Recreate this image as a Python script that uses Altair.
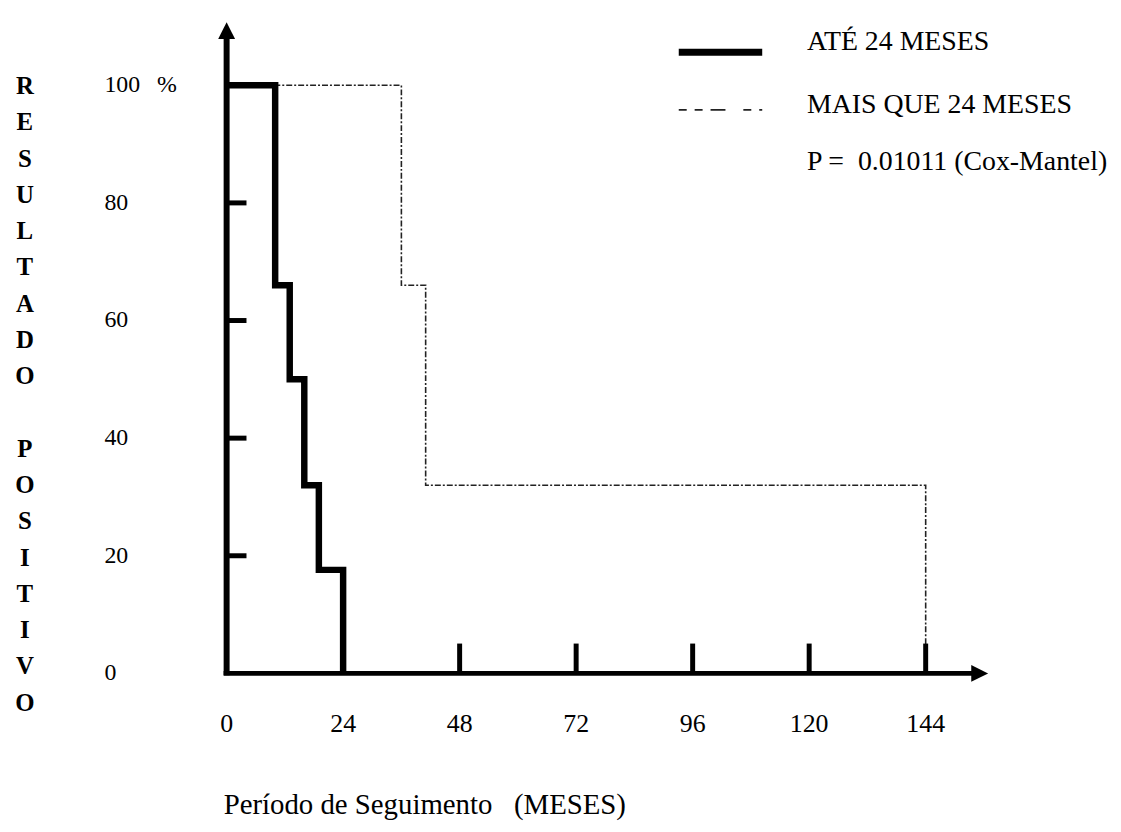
import altair as alt
import pandas as pd

# ---- data ----
solid_months = [0, 10, 13, 16, 19, 24]
solid_pct = [100, 66, 50, 32, 17.6, 0]
dashed_months = [0, 36, 41, 144]
dashed_pct = [100, 66, 32, 0]

x_tick_values = [24, 48, 72, 96, 120, 144]
x_label_values = [0, 24, 48, 72, 96, 120, 144]
x_label_text = ["0", "24", "48", "72", "96", "120", "144"]
y_tick_values = [20, 40, 60, 80]
y_label_values = [0, 20, 40, 60, 80, 100]
y_label_text = ["0", "20", "40", "60", "80", "100"]

legend_labels = ["ATÉ 24 MESES", "MAIS QUE 24 MESES"]
pvalue_text = "P = \u00a00.01011 (Cox-Mantel)"
y_title_words = ["RESULTADO", "POSITIVO"]
x_title = "Período de Seguimento\u00a0\u00a0\u00a0(MESES)"

W, H = 767, 651
FONT = "Liberation Serif"
LETTER_STEP = 36.5

xs = alt.Scale(domain=[0, 157], nice=False, zero=False)
ys = alt.Scale(domain=[0, 110], nice=False)

solid_df = pd.DataFrame({"m": solid_months, "p": solid_pct})
dashed_df = pd.DataFrame({"m": dashed_months, "p": dashed_pct})
one = pd.DataFrame({"k": [0]})

dashed = alt.Chart(dashed_df).mark_line(
    interpolate="step-after", strokeWidth=1.6, color="#222",
    strokeDash=[6, 2, 2, 2]
).encode(x=alt.X("m:Q", scale=xs, axis=None), y=alt.Y("p:Q", scale=ys, axis=None))

solid = alt.Chart(solid_df).mark_line(
    interpolate="step-after", strokeWidth=6.5, color="black", strokeJoin="miter"
).encode(x=alt.X("m:Q", scale=xs, axis=None), y=alt.Y("p:Q", scale=ys, axis=None))

y_axis_line = alt.Chart(one).mark_rule(strokeWidth=6, color="black").encode(
    x=alt.value(0), y=alt.value(H + 2), y2=alt.value(10))
x_axis_line = alt.Chart(one).mark_rule(strokeWidth=5, color="black").encode(
    x=alt.value(-3), x2=alt.value(752), y=alt.value(H))

arrow_up = alt.Chart(one).mark_point(
    shape="M0,-1L0.75,0.5L-0.75,0.5Z", filled=True, size=514, color="black", opacity=1
).encode(x=alt.value(0), y=alt.value(7))
arrow_right = alt.Chart(one).mark_point(
    shape="M1,0L-0.5,0.75L-0.5,-0.75Z", filled=True, size=514, color="black", opacity=1
).encode(x=alt.value(755), y=alt.value(H))

y_ticks = alt.Chart(pd.DataFrame({"v": y_tick_values})).mark_rule(
    strokeWidth=5, color="black").encode(
    y=alt.Y("v:Q", scale=ys, axis=None), x=alt.value(0), x2=alt.value(20))
x_ticks = alt.Chart(pd.DataFrame({"v": x_tick_values})).mark_rule(
    strokeWidth=5, color="black").encode(
    x=alt.X("v:Q", scale=xs, axis=None), y=alt.value(H), y2=alt.value(H - 30))

x_labels = alt.Chart(pd.DataFrame({"v": x_label_values, "t": x_label_text})).mark_text(
    font=FONT, fontSize=26, align="center", baseline="middle", color="black"
).encode(x=alt.X("v:Q", scale=xs, axis=None), y=alt.value(H + 51), text="t:N")

y_labels = alt.Chart(pd.DataFrame({"v": y_label_values, "t": y_label_text})).mark_text(
    font=FONT, fontSize=24, align="left", baseline="middle", color="black"
).encode(y=alt.Y("v:Q", scale=ys, axis=None), x=alt.value(-123), text="t:N")

pct_sign = alt.Chart(one).mark_text(
    font=FONT, fontSize=24, align="center", baseline="middle", color="black", text="%"
).encode(y=alt.YDatum(100, scale=ys, axis=None), x=alt.value(-60))

letter_style = dict(font=FONT, fontSize=25, fontWeight="bold", align="center",
                    baseline="middle", color="black", lineBreak="\n",
                    lineHeight=LETTER_STEP)
y_title_1 = alt.Chart(one).mark_text(
    text="\n".join(y_title_words[0]), **letter_style
).encode(x=alt.value(-203), y=alt.value(60))
y_title_2 = alt.Chart(one).mark_text(
    text="\n".join(y_title_words[1]), **letter_style
).encode(x=alt.value(-203), y=alt.value(60 + 10 * LETTER_STEP))

x_title_txt = alt.Chart(one).mark_text(
    font=FONT, fontSize=29, align="left", baseline="middle", color="black", text=x_title
).encode(x=alt.value(-3), y=alt.value(H + 133))

leg_solid = alt.Chart(one).mark_rule(strokeWidth=7, color="black").encode(
    x=alt.value(455), x2=alt.value(539), y=alt.value(26))
leg_dashed = alt.Chart(one).mark_rule(
    strokeWidth=1.8, color="#222", strokeDash=[8, 8, 8, 8, 15, 18, 8]).encode(
    x=alt.value(455), x2=alt.value(539), y=alt.value(84))

leg_style = dict(font=FONT, fontSize=28, align="left", baseline="middle", color="black")
leg_text1 = alt.Chart(one).mark_text(text=legend_labels[0], **leg_style).encode(
    x=alt.value(584), y=alt.value(16))
leg_text2 = alt.Chart(one).mark_text(text=legend_labels[1], **leg_style).encode(
    x=alt.value(584), y=alt.value(79))
leg_text3 = alt.Chart(one).mark_text(text=pvalue_text, **leg_style).encode(
    x=alt.value(584), y=alt.value(136))

chart = alt.layer(
    dashed, solid, y_axis_line, x_axis_line, arrow_up, arrow_right,
    y_ticks, x_ticks, x_labels, y_labels, pct_sign, y_title_1, y_title_2,
    x_title_txt, leg_solid, leg_dashed, leg_text1, leg_text2, leg_text3,
).properties(
    width=W, height=H,
    padding={"left": 220, "top": 16, "right": 125, "bottom": 152},
    autosize=alt.AutoSizeParams(type="none"),
).configure_view(stroke=None)

chart.save("out.html", embed_options={"renderer": "svg", "actions": False})
